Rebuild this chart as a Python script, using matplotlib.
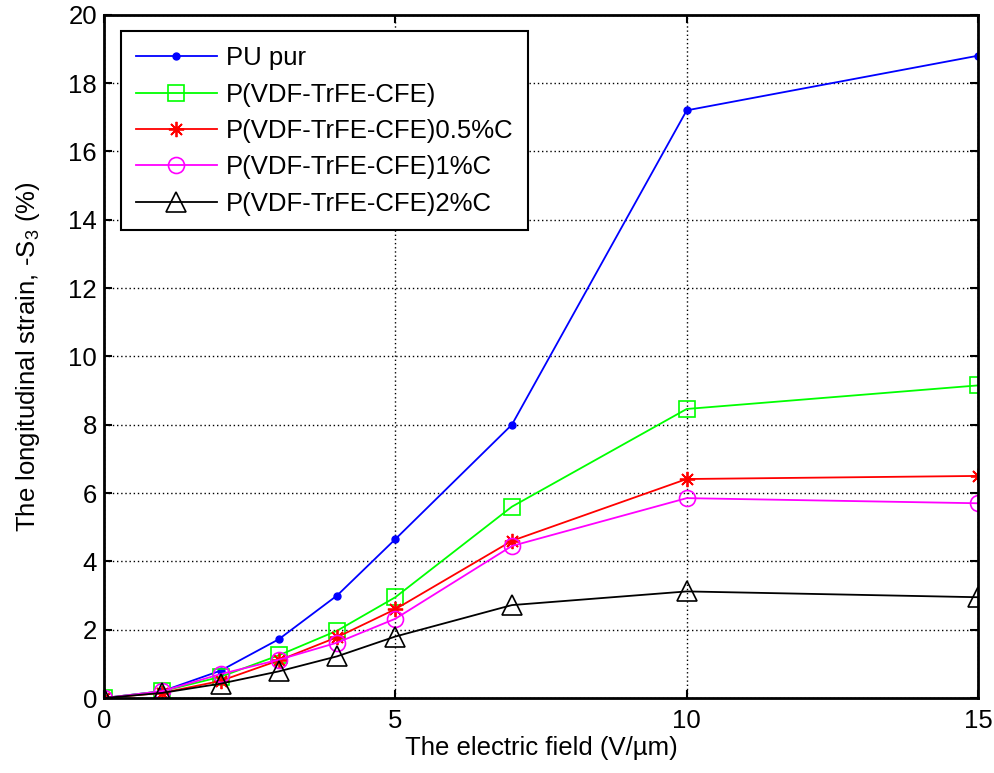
import matplotlib
matplotlib.use("Agg")
import matplotlib.pyplot as plt

plt.rcParams["font.family"] = ["Liberation Sans", "DejaVu Sans"]
plt.rcParams["mathtext.default"] = "regular"

# data
field = [0, 1, 2, 3, 4, 5, 7, 10, 15]
pu_pur = [0, 0.2, 0.8, 1.72, 3.0, 4.65, 8.0, 17.2, 18.8]
terpoly = [0, 0.2, 0.62, 1.25, 1.97, 2.95, 5.6, 8.46, 9.15]
terpoly_05c = [0, 0.15, 0.5, 1.1, 1.78, 2.6, 4.6, 6.41, 6.5]
terpoly_1c = [0, 0.2, 0.7, 1.12, 1.62, 2.32, 4.45, 5.85, 5.7]
terpoly_2c = [0, 0.15, 0.42, 0.78, 1.22, 1.8, 2.72, 3.12, 2.95]

labels = ["PU pur", "P(VDF-TrFE-CFE)", "P(VDF-TrFE-CFE)0.5%C",
          "P(VDF-TrFE-CFE)1%C", "P(VDF-TrFE-CFE)2%C"]
xticks = [0, 5, 10, 15]
yticks = list(range(0, 21, 2))

fs = 18.5
fig = plt.figure(figsize=(9.94, 7.73), dpi=100)
ax = fig.add_axes([0.1046, 0.097, 0.8794, 0.884])

lw = 1.3
ax.plot(field, pu_pur, color="blue", marker="o", ms=5, lw=lw, label=labels[0])
ax.plot(field, terpoly, color="#00ff00", marker="s", ms=12, mfc="none",
        mew=1.2, lw=lw, label=labels[1])
ax.plot(field, terpoly_05c, color="red", marker=(8, 2, 0), ms=11, mew=1.3,
        lw=lw, label=labels[2])
ax.plot(field, terpoly_1c, color="magenta", marker="o", ms=11.5, mfc="none",
        mew=1.2, lw=lw, label=labels[3])
ax.plot(field, terpoly_2c, color="black", marker="^", ms=15, mfc="none",
        mew=1.2, lw=lw, label=labels[4])

ax.set_xlim(0, 15)
ax.set_ylim(0, 20)
ax.set_xticks(xticks)
ax.set_yticks(yticks)
ax.tick_params(direction="in", labelsize=fs, top=True, right=True,
               length=6, width=1.5)
ax.tick_params(axis="y", pad=5)
ax.tick_params(axis="x", pad=8)
for s in ax.spines.values():
    s.set_linewidth(2)
ax.grid(True, linestyle=(0, (1, 2)), color="black", linewidth=1)

ax.set_xlabel("The electric field (V/\u00b5m)", fontsize=fs, labelpad=2)
ax.set_ylabel("The longitudinal strain, -S$_3$ (%)", fontsize=fs, labelpad=19)

leg = ax.legend(loc="upper left", bbox_to_anchor=(0.0195, 0.9756),
                borderaxespad=0, fontsize=fs, fancybox=False,
                edgecolor="black", framealpha=1, handlelength=3.15,
                handletextpad=0.35, borderpad=0.58, labelspacing=0.48)
leg.get_frame().set_linewidth(1.5)

fig.savefig("out.png", dpi=100)
